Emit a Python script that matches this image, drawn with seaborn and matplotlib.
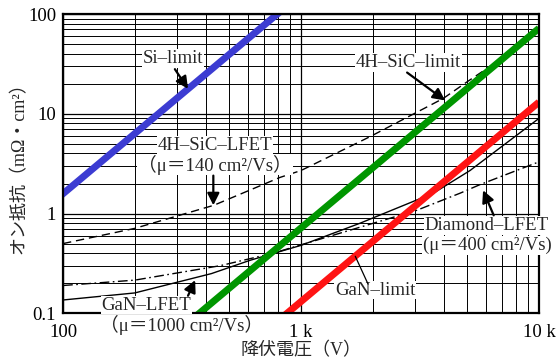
import matplotlib
matplotlib.use("Agg")
import matplotlib.pyplot as plt
import matplotlib.ticker as mticker
import seaborn as sns

# breakdown voltage (V) vs specific on-resistance (mOhm cm2)
si_limit_v = [90, 1000]
si_limit_r = [1.28, 158]
sic_limit_v = [330, 10000]
sic_limit_r = [0.078, 72]
gan_limit_v = [800, 10000]
gan_limit_r = [0.084, 13.1]

sic_lfet_v = [100, 200, 430, 815, 1000, 1950, 3950, 5000, 7000, 10000]
sic_lfet_r = [0.50, 0.71, 1.21, 2.3, 2.7, 5.9, 14.2, 21, 36, 72]
gan_lfet_v = [100, 200, 420, 611, 1000, 1770, 3600, 5130, 10000]
gan_lfet_r = [0.136, 0.16, 0.25, 0.34, 0.48, 0.80, 1.6, 2.7, 9.0]
dia_lfet_v = [100, 200, 457, 762, 1770, 3070, 4660, 5650, 10000]
dia_lfet_r = [0.19, 0.215, 0.30, 0.40, 0.73, 1.08, 1.6, 1.95, 3.3]

x_ticks = [100, 1000, 10000]
x_ticklabels = ["100", "1 k", "10 k"]
y_ticks = [0.1, 1, 10, 100]
y_ticklabels = ["0.1", "1", "10", "100"]

sns.set_theme(style="white")
plt.rcParams['font.family'] = ['Liberation Serif', 'Noto Sans CJK JP']

fig = plt.figure(figsize=(5.58, 3.62), dpi=100)
ax = fig.add_axes([0.113, 0.1345, 0.853, 0.8268])
ax.set_xscale("log")
ax.set_yscale("log")

# thin black LFET curves
sns.lineplot(x=sic_lfet_v, y=sic_lfet_r, ax=ax, color="black", lw=1.0,
             linestyle=(0, (6, 3.5)), sort=False, estimator=None)
sns.lineplot(x=gan_lfet_v, y=gan_lfet_r, ax=ax, color="black", lw=1.0,
             sort=False, estimator=None)
sns.lineplot(x=dia_lfet_v, y=dia_lfet_r, ax=ax, color="black", lw=1.0,
             linestyle=(0, (7, 2.5, 1.2, 2.5)), sort=False, estimator=None)

# thick material limit lines
sns.lineplot(x=si_limit_v, y=si_limit_r, ax=ax, color="#3c3cd2", lw=5,
             solid_capstyle="butt", sort=False, estimator=None)
sns.lineplot(x=sic_limit_v, y=sic_limit_r, ax=ax, color="#009600", lw=5,
             solid_capstyle="butt", sort=False, estimator=None)
sns.lineplot(x=gan_limit_v, y=gan_limit_r, ax=ax, color="#ff1414", lw=5,
             solid_capstyle="butt", sort=False, estimator=None)

ax.set_xlim(100, 10000)
ax.set_ylim(0.1, 100)
ax.xaxis.set_major_locator(mticker.FixedLocator(x_ticks))
ax.xaxis.set_major_formatter(mticker.FixedFormatter(x_ticklabels))
ax.yaxis.set_major_locator(mticker.FixedLocator(y_ticks))
ax.yaxis.set_major_formatter(mticker.FixedFormatter(y_ticklabels))
ax.xaxis.set_minor_locator(mticker.LogLocator(base=10, subs=range(2, 10)))
ax.yaxis.set_minor_locator(mticker.LogLocator(base=10, subs=range(2, 10)))
ax.xaxis.set_minor_formatter(mticker.NullFormatter())
ax.yaxis.set_minor_formatter(mticker.NullFormatter())
ax.tick_params(which="both", length=0, labelsize=13.5, colors="black")
ax.tick_params(axis="x", pad=8)
ax.tick_params(axis="y", pad=5)
ax.grid(which="major", color="black", lw=0.9)
ax.grid(which="minor", color="black", lw=0.7)
ax.set_axisbelow(True)
for s in ax.spines.values():
    s.set_color("black")
    s.set_linewidth(1.6)

ax.set_xlabel("降伏電圧（V）", fontsize=13)
ax.set_ylabel("オン抵抗（mΩ・cm²）", fontsize=13)
ax.xaxis.set_label_coords(0.5, -0.095)
ax.yaxis.set_label_coords(-0.075, 0.5)

fs = 13.5
bg = dict(facecolor="white", edgecolor="none", pad=0.5)
ax.text(290, 36, "Si–limit", fontsize=fs, ha="center", va="center", bbox=bg)
ax.text(2820, 32.6, "4H–SiC–limit", fontsize=fs, ha="center", va="center", bbox=bg)
ax.text(435, 4.8, "4H–SiC–LFET", fontsize=fs, ha="center", va="center", bbox=bg)
ax.text(435, 3.1, "（μ＝140 cm²/Vs）", fontsize=fs, ha="center", va="center", bbox=bg)
ax.text(145, 0.121, "GaN–LFET", fontsize=fs, ha="left", va="center", bbox=bg)
ax.text(143, 0.0764, "（μ＝1000 cm²/Vs）", fontsize=fs, ha="left", va="center")
ax.text(3300, 0.76, "Diamond–LFET", fontsize=fs, ha="left", va="center", bbox=bg)
ax.text(3250, 0.48, "(μ＝400 cm²/Vs)", fontsize=fs, ha="left", va="center", bbox=bg)
ax.text(2050, 0.171, "GaN–limit", fontsize=fs, ha="center", va="center", bbox=bg)

arrow = dict(arrowstyle="-|>,head_length=0.6,head_width=0.3", color="black",
             lw=1.6, shrinkA=0, shrinkB=0, mutation_scale=12)
ax.annotate("", xy=(335, 17.8), xytext=(295, 28), arrowprops=arrow)
ax.annotate("", xy=(4030, 13.6), xytext=(2790, 25.9), arrowprops=arrow)
ax.annotate("", xy=(428, 1.21), xytext=(428, 2.4), arrowprops=arrow)
ax.annotate("", xy=(359, 0.215), xytext=(335, 0.15), arrowprops=arrow)
ax.annotate("", xy=(5820, 1.71), xytext=(6450, 0.96), arrowprops=arrow)
ax.annotate("", xy=(1690, 0.373), xytext=(1913, 0.196),
            arrowprops=dict(arrowstyle="-", color="black", lw=0.9,
                            shrinkA=0, shrinkB=0))

fig.savefig("out.png", dpi=100)
